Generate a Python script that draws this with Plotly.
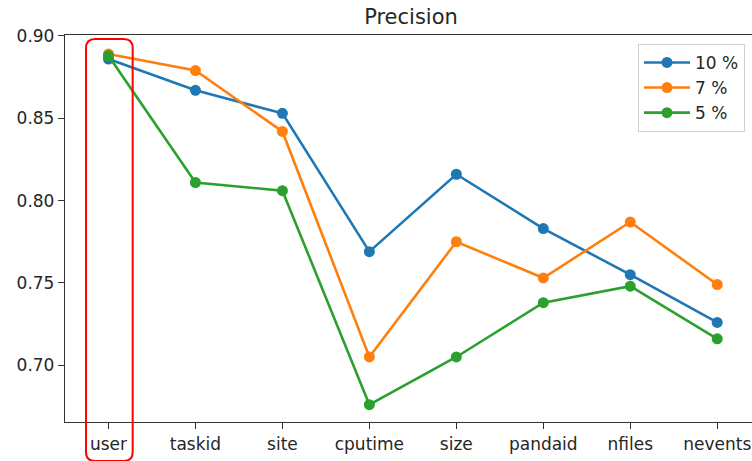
import plotly.graph_objects as go

# Feature names on the x axis
features = ["user", "taskid", "site", "cputime", "size", "pandaid", "nfiles", "nevents"]

# Precision per feature for each sampling level
precision_10 = [0.886, 0.867, 0.853, 0.769, 0.816, 0.783, 0.755, 0.726]
precision_7 = [0.889, 0.879, 0.842, 0.705, 0.775, 0.753, 0.787, 0.749]
precision_5 = [0.888, 0.811, 0.806, 0.676, 0.705, 0.738, 0.748, 0.716]

series = [
    ("10 %", precision_10, "#1f77b4"),
    ("7 %", precision_7, "#ff7f0e"),
    ("5 %", precision_5, "#2ca02c"),
]

y_ticks = [0.70, 0.75, 0.80, 0.85, 0.90]

FONT = "DejaVu Sans"
AXIS_COLOR = "#333333"

fig = go.Figure()
for name, values, color in series:
    fig.add_trace(go.Scatter(
        x=list(range(len(features))),
        y=values,
        name=name,
        mode="lines+markers",
        line=dict(color=color, width=2.6),
        marker=dict(color=color, size=11),
    ))

fig.update_layout(
    width=752,
    height=461,
    margin=dict(l=65, r=0, t=35, b=39),
    paper_bgcolor="white",
    plot_bgcolor="white",
    font=dict(family=FONT, size=17, color="#262626"),
    title=dict(
        text="Precision",
        font=dict(family=FONT, size=21, color="#262626"),
        xref="container", x=411 / 752, xanchor="center",
        yref="container", y=1 - 17 / 461, yanchor="middle",
    ),
    showlegend=True,
    legend=dict(
        x=0.9898, xanchor="right",
        y=0.977, yanchor="top",
        itemwidth=46,
        bgcolor="rgba(255,255,255,0.8)",
        bordercolor="#d0d0d0",
        borderwidth=1,
        font=dict(family=FONT, size=17, color="#262626"),
    ),
)

fig.update_xaxes(
    range=[-0.5, 7.4],
    tickmode="array",
    tickvals=list(range(len(features))),
    ticktext=features,
    showgrid=False,
    zeroline=False,
    showline=True,
    linecolor=AXIS_COLOR,
    linewidth=1.3,
    mirror=True,
    ticks="outside",
    ticklen=6,
    tickwidth=1.3,
    tickcolor=AXIS_COLOR,
)

fig.update_yaxes(
    range=[0.6655, 0.9006],
    tickmode="array",
    tickvals=y_ticks,
    ticktext=[f"{v:.2f}" for v in y_ticks],
    showgrid=False,
    zeroline=False,
    showline=True,
    linecolor=AXIS_COLOR,
    linewidth=1.3,
    ticks="outside",
    ticklen=6,
    tickwidth=1.3,
    tickcolor=AXIS_COLOR,
)

# Rounded red frame highlighting the first feature column
x0, x1 = 0.0306, 0.0985
y0, y1 = -0.1008, 0.9897
rx, ry = 9 / 687, 9 / 387
path = (
    f"M {x0 + rx},{y1} L {x1 - rx},{y1} Q {x1},{y1} {x1},{y1 - ry} "
    f"L {x1},{y0 + ry} Q {x1},{y0} {x1 - rx},{y0} "
    f"L {x0 + rx},{y0} Q {x0},{y0} {x0},{y0 + ry} "
    f"L {x0},{y1 - ry} Q {x0},{y1} {x0 + rx},{y1} Z"
)
fig.add_shape(
    type="path", path=path, xref="paper", yref="paper",
    line=dict(color="#ff0000", width=2), layer="above",
)

fig.write_html("out.html")
